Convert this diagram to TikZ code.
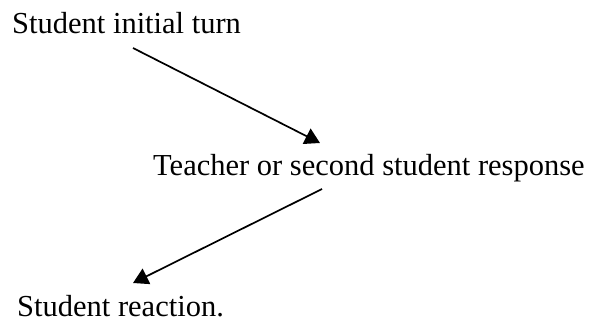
\documentclass[tikz,border=0pt]{standalone}
\usepackage{fontspec}
\setmainfont{Liberation Serif}
\usetikzlibrary{arrows.meta}
\begin{document}
\begin{tikzpicture}[x=1bp,y=-1bp,
  lbl/.style={anchor=base west, inner sep=0pt, font=\fontsize{30.5bp}{36bp}\selectfont},
  conn/.style={line width=1.7bp, -{Triangle[length=15bp,width=17bp]}}]
\useasboundingbox (0,0) rectangle (592,323);
\node[lbl] (s1) at (12,33) {Student initial turn};
\node[lbl] (t1) at (153,175) {Teacher or second student response};
\node[lbl] (s2) at (17,316.5) {Student reaction.};
\coordinate (a1) at (133,48);
\coordinate (b1) at (320,143);
\coordinate (a2) at (322,189);
\coordinate (b2) at (133,283);
\draw[conn] (a1) -- (b1);
\draw[conn] (a2) -- (b2);
\end{tikzpicture}
\end{document}
